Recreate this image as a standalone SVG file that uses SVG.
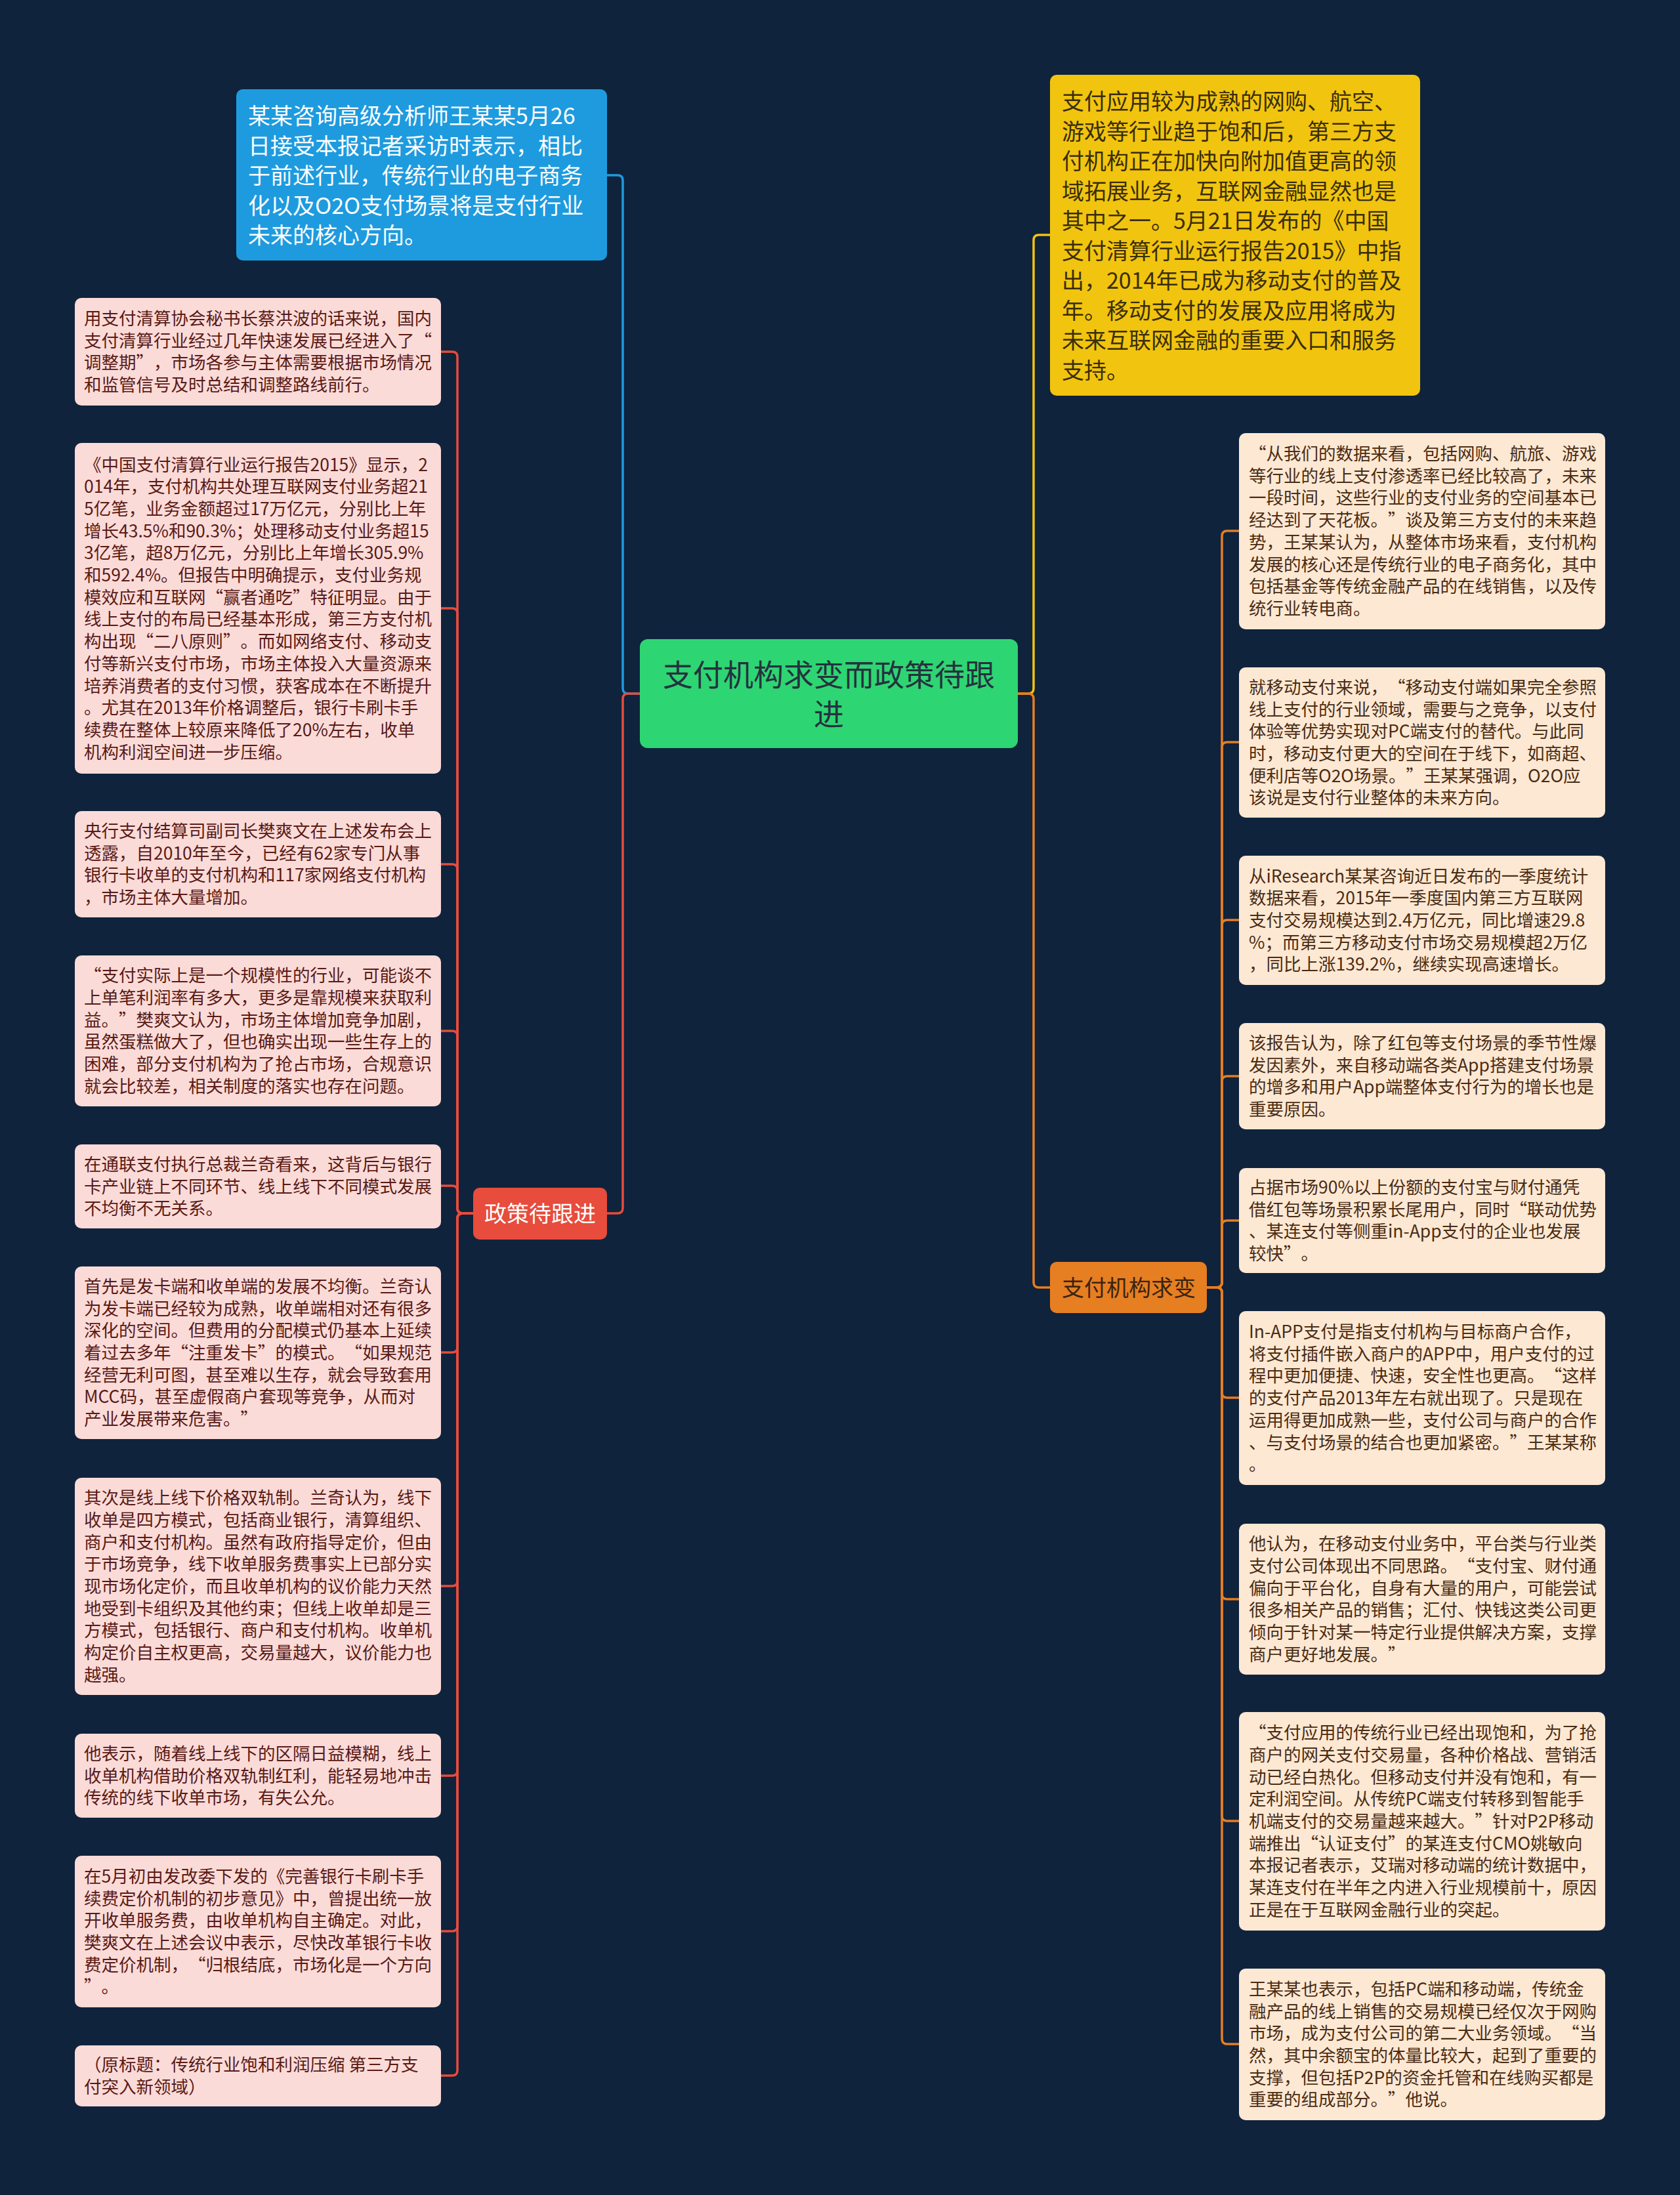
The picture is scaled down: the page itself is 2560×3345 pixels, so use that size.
<svg xmlns="http://www.w3.org/2000/svg" width="2560" height="3345" viewBox="0 0 2560 3345">
<style>
text{font-family:"Noto Sans CJK SC","Noto Sans",sans-serif;text-spacing-trim:space-all;}
.lt{font-size:26.5px;fill:#5a1a16;}
.rt{font-size:26.5px;fill:#4a2c14;}
.lbox{fill:#fadbd8;}
.rbox{fill:#fde8d3;}
.c{fill:none;stroke-width:3.5;stroke-linecap:round;stroke-linejoin:round;}
.cr{stroke:#e74c3c;}
.co{stroke:#e67e22;}
.cb{stroke:#1e9bde;}
.cy{stroke:#f1c40f;}
</style>
<rect x="0" y="0" width="2560" height="3345" fill="#0f233c"/>

<g id="connectors">
<path class="c cb" d="M975,1057 H957 Q949,1057 949,1049 V275 Q949,267 941,267 H925"/>
<path class="c cr" d="M975,1057 H957 Q949,1057 949,1065 V1841 Q949,1849 941,1849 H925"/>
<path class="c cy" d="M1551,1057 H1567 Q1575,1057 1575,1049 V366 Q1575,358 1583,358 H1600"/>
<path class="c co" d="M1551,1057 H1567 Q1575,1057 1575,1065 V1954 Q1575,1962 1583,1962 H1600"/>
<path class="c cr" d="M721,1849 H705 Q697,1849 697,1841 V544 Q697,536 689,536 H672"/>
<path class="c cr" d="M721,1849 H705 Q697,1849 697,1841 V935 Q697,927 689,927 H672"/>
<path class="c cr" d="M721,1849 H705 Q697,1849 697,1841 V1325 Q697,1317 689,1317 H672"/>
<path class="c cr" d="M721,1849 H705 Q697,1849 697,1841 V1579 Q697,1571 689,1571 H672"/>
<path class="c cr" d="M721,1849 H705 Q697,1849 697,1841 V1815 Q697,1807 689,1807 H672"/>
<path class="c cr" d="M721,1849 H705 Q697,1849 697,1857 V2053 Q697,2061 689,2061 H672"/>
<path class="c cr" d="M721,1849 H705 Q697,1849 697,1857 V2409 Q697,2417 689,2417 H672"/>
<path class="c cr" d="M721,1849 H705 Q697,1849 697,1857 V2698 Q697,2706 689,2706 H672"/>
<path class="c cr" d="M721,1849 H705 Q697,1849 697,1857 V2935 Q697,2943 689,2943 H672"/>
<path class="c cr" d="M721,1849 H705 Q697,1849 697,1857 V3155 Q697,3163 689,3163 H672"/>
<path class="c co" d="M1839,1962 H1854 Q1862,1962 1862,1954 V817 Q1862,809 1870,809 H1888"/>
<path class="c co" d="M1839,1962 H1854 Q1862,1962 1862,1954 V1139 Q1862,1131 1870,1131 H1888"/>
<path class="c co" d="M1839,1962 H1854 Q1862,1962 1862,1954 V1410 Q1862,1402 1870,1402 H1888"/>
<path class="c co" d="M1839,1962 H1854 Q1862,1962 1862,1954 V1648 Q1862,1640 1870,1640 H1888"/>
<path class="c co" d="M1839,1962 H1854 Q1862,1962 1862,1954 V1868 Q1862,1860 1870,1860 H1888"/>
<path class="c co" d="M1839,1962 H1854 Q1862,1962 1862,1970 V2122 Q1862,2130 1870,2130 H1888"/>
<path class="c co" d="M1839,1962 H1854 Q1862,1962 1862,1970 V2429 Q1862,2437 1870,2437 H1888"/>
<path class="c co" d="M1839,1962 H1854 Q1862,1962 1862,1970 V2767 Q1862,2775 1870,2775 H1888"/>
<path class="c co" d="M1839,1962 H1854 Q1862,1962 1862,1970 V3107 Q1862,3115 1870,3115 H1888"/>
</g>

<g id="root">
<rect x="975" y="974" width="576" height="166" rx="12" fill="#2ed573"/>
<text x="1263" y="1045" font-size="46" fill="#25323d" text-anchor="middle">支付机构求变而政策待跟</text>
<text x="1263" y="1105" font-size="46" fill="#25323d" text-anchor="middle">进</text>
</g>

<g id="n-blue">
<rect x="360" y="136" width="565" height="261" rx="10" fill="#1e9bde"/>
<text x="378" y="189" font-size="34" fill="#ffffff"><tspan x="378">某某咨询高级分析师王某某5月26</tspan><tspan x="378" dy="45.5">日接受本报记者采访时表示，相比</tspan><tspan x="378" dy="45.5">于前述行业，传统行业的电子商务</tspan><tspan x="378" dy="45.5">化以及O2O支付场景将是支付行业</tspan><tspan x="378" dy="45.5">未来的核心方向。</tspan></text>
</g>

<g id="n-yellow">
<rect x="1600" y="114" width="564" height="489" rx="10" fill="#f1c40f"/>
<text x="1618" y="167" font-size="34" fill="#3a2e08"><tspan x="1618">支付应用较为成熟的网购、航空、</tspan><tspan x="1618" dy="45.5">游戏等行业趋于饱和后，第三方支</tspan><tspan x="1618" dy="45.5">付机构正在加快向附加值更高的领</tspan><tspan x="1618" dy="45.5">域拓展业务，互联网金融显然也是</tspan><tspan x="1618" dy="45.5">其中之一。5月21日发布的《中国</tspan><tspan x="1618" dy="45.5">支付清算行业运行报告2015》中指</tspan><tspan x="1618" dy="45.5">出，2014年已成为移动支付的普及</tspan><tspan x="1618" dy="45.5">年。移动支付的发展及应用将成为</tspan><tspan x="1618" dy="45.5">未来互联网金融的重要入口和服务</tspan><tspan x="1618" dy="45.5">支持。</tspan></text>
</g>

<g id="n-policy">
<rect x="721" y="1810" width="204" height="79" rx="10" fill="#e74c3c"/>
<text x="823" y="1862" font-size="34" fill="#ffffff" text-anchor="middle">政策待跟进</text>
</g>

<g id="n-change">
<rect x="1600" y="1923" width="239" height="78" rx="10" fill="#e67e22"/>
<text x="1720" y="1975" font-size="34" fill="#3a2410" text-anchor="middle">支付机构求变</text>
</g>

<g id="l1">
<rect class="lbox" x="114" y="454" width="558" height="164" rx="10"/>
<text class="lt" x="128" y="495"><tspan x="128">用支付清算协会秘书长蔡洪波的话来说，国内</tspan><tspan x="128" dy="33.7">支付清算行业经过几年快速发展已经进入了“</tspan><tspan x="128" dy="33.7">调整期”，市场各参与主体需要根据市场情况</tspan><tspan x="128" dy="33.7">和监管信号及时总结和调整路线前行。</tspan></text>
</g>

<g id="l2">
<rect class="lbox" x="114" y="675" width="558" height="504" rx="10"/>
<text class="lt" x="128" y="717.5"><tspan x="128">《中国支付清算行业运行报告2015》显示，2</tspan><tspan x="128" dy="33.7">014年，支付机构共处理互联网支付业务超21</tspan><tspan x="128" dy="33.7">5亿笔，业务金额超过17万亿元，分别比上年</tspan><tspan x="128" dy="33.7">增长43.5%和90.3%；处理移动支付业务超15</tspan><tspan x="128" dy="33.7">3亿笔，超8万亿元，分别比上年增长305.9%</tspan><tspan x="128" dy="33.7">和592.4%。但报告中明确提示，支付业务规</tspan><tspan x="128" dy="33.7">模效应和互联网“赢者通吃”特征明显。由于</tspan><tspan x="128" dy="33.7">线上支付的布局已经基本形成，第三方支付机</tspan><tspan x="128" dy="33.7">构出现“二八原则”。而如网络支付、移动支</tspan><tspan x="128" dy="33.7">付等新兴支付市场，市场主体投入大量资源来</tspan><tspan x="128" dy="33.7">培养消费者的支付习惯，获客成本在不断提升</tspan><tspan x="128" dy="33.7">。尤其在2013年价格调整后，银行卡刷卡手</tspan><tspan x="128" dy="33.7">续费在整体上较原来降低了20%左右，收单</tspan><tspan x="128" dy="33.7">机构利润空间进一步压缩。</tspan></text>
</g>

<g id="l3">
<rect class="lbox" x="114" y="1236" width="558" height="162" rx="10"/>
<text class="lt" x="128" y="1276"><tspan x="128">央行支付结算司副司长樊爽文在上述发布会上</tspan><tspan x="128" dy="33.7">透露，自2010年至今，已经有62家专门从事</tspan><tspan x="128" dy="33.7">银行卡收单的支付机构和117家网络支付机构</tspan><tspan x="128" dy="33.7">，市场主体大量增加。</tspan></text>
</g>

<g id="l4">
<rect class="lbox" x="114" y="1456" width="558" height="230" rx="10"/>
<text class="lt" x="128" y="1496.3"><tspan x="128">“支付实际上是一个规模性的行业，可能谈不</tspan><tspan x="128" dy="33.7">上单笔利润率有多大，更多是靠规模来获取利</tspan><tspan x="128" dy="33.7">益。”樊爽文认为，市场主体增加竞争加剧，</tspan><tspan x="128" dy="33.7">虽然蛋糕做大了，但也确实出现一些生存上的</tspan><tspan x="128" dy="33.7">困难，部分支付机构为了抢占市场，合规意识</tspan><tspan x="128" dy="33.7">就会比较差，相关制度的落实也存在问题。</tspan></text>
</g>

<g id="l5">
<rect class="lbox" x="114" y="1744" width="558" height="128" rx="10"/>
<text class="lt" x="128" y="1783.8"><tspan x="128">在通联支付执行总裁兰奇看来，这背后与银行</tspan><tspan x="128" dy="33.7">卡产业链上不同环节、线上线下不同模式发展</tspan><tspan x="128" dy="33.7">不均衡不无关系。</tspan></text>
</g>

<g id="l6">
<rect class="lbox" x="114" y="1930" width="558" height="263" rx="10"/>
<text class="lt" x="128" y="1969.9"><tspan x="128">首先是发卡端和收单端的发展不均衡。兰奇认</tspan><tspan x="128" dy="33.7">为发卡端已经较为成熟，收单端相对还有很多</tspan><tspan x="128" dy="33.7">深化的空间。但费用的分配模式仍基本上延续</tspan><tspan x="128" dy="33.7">着过去多年“注重发卡”的模式。“如果规范</tspan><tspan x="128" dy="33.7">经营无利可图，甚至难以生存，就会导致套用</tspan><tspan x="128" dy="33.7">MCC码，甚至虚假商户套现等竞争，从而对</tspan><tspan x="128" dy="33.7">产业发展带来危害。”</tspan></text>
</g>

<g id="l7">
<rect class="lbox" x="114" y="2252" width="558" height="331" rx="10"/>
<text class="lt" x="128" y="2292.2"><tspan x="128">其次是线上线下价格双轨制。兰奇认为，线下</tspan><tspan x="128" dy="33.7">收单是四方模式，包括商业银行，清算组织、</tspan><tspan x="128" dy="33.7">商户和支付机构。虽然有政府指导定价，但由</tspan><tspan x="128" dy="33.7">于市场竞争，线下收单服务费事实上已部分实</tspan><tspan x="128" dy="33.7">现市场化定价，而且收单机构的议价能力天然</tspan><tspan x="128" dy="33.7">地受到卡组织及其他约束；但线上收单却是三</tspan><tspan x="128" dy="33.7">方模式，包括银行、商户和支付机构。收单机</tspan><tspan x="128" dy="33.7">构定价自主权更高，交易量越大，议价能力也</tspan><tspan x="128" dy="33.7">越强。</tspan></text>
</g>

<g id="l8">
<rect class="lbox" x="114" y="2642" width="558" height="128" rx="10"/>
<text class="lt" x="128" y="2681.8"><tspan x="128">他表示，随着线上线下的区隔日益模糊，线上</tspan><tspan x="128" dy="33.7">收单机构借助价格双轨制红利，能轻易地冲击</tspan><tspan x="128" dy="33.7">传统的线下收单市场，有失公允。</tspan></text>
</g>

<g id="l9">
<rect class="lbox" x="114" y="2828" width="558" height="231" rx="10"/>
<text class="lt" x="128" y="2868.8"><tspan x="128">在5月初由发改委下发的《完善银行卡刷卡手</tspan><tspan x="128" dy="33.7">续费定价机制的初步意见》中，曾提出统一放</tspan><tspan x="128" dy="33.7">开收单服务费，由收单机构自主确定。对此，</tspan><tspan x="128" dy="33.7">樊爽文在上述会议中表示，尽快改革银行卡收</tspan><tspan x="128" dy="33.7">费定价机制，“归根结底，市场化是一个方向</tspan><tspan x="128" dy="33.7">”。</tspan></text>
</g>

<g id="l10">
<rect class="lbox" x="114" y="3117" width="558" height="93" rx="10"/>
<text class="lt" x="128" y="3156.2"><tspan x="128">（原标题：传统行业饱和利润压缩 第三方支</tspan><tspan x="128" dy="33.7">付突入新领域）</tspan></text>
</g>

<g id="r1">
<rect class="rbox" x="1888" y="660" width="558" height="299" rx="10"/>
<text class="rt" x="1903" y="701"><tspan x="1903">“从我们的数据来看，包括网购、航旅、游戏</tspan><tspan x="1903" dy="33.7">等行业的线上支付渗透率已经比较高了，未来</tspan><tspan x="1903" dy="33.7">一段时间，这些行业的支付业务的空间基本已</tspan><tspan x="1903" dy="33.7">经达到了天花板。”谈及第三方支付的未来趋</tspan><tspan x="1903" dy="33.7">势，王某某认为，从整体市场来看，支付机构</tspan><tspan x="1903" dy="33.7">发展的核心还是传统行业的电子商务化，其中</tspan><tspan x="1903" dy="33.7">包括基金等传统金融产品的在线销售，以及传</tspan><tspan x="1903" dy="33.7">统行业转电商。</tspan></text>
</g>

<g id="r2">
<rect class="rbox" x="1888" y="1017" width="558" height="229" rx="10"/>
<text class="rt" x="1903" y="1056.8"><tspan x="1903">就移动支付来说，“移动支付端如果完全参照</tspan><tspan x="1903" dy="33.7">线上支付的行业领域，需要与之竞争，以支付</tspan><tspan x="1903" dy="33.7">体验等优势实现对PC端支付的替代。与此同</tspan><tspan x="1903" dy="33.7">时，移动支付更大的空间在于线下，如商超、</tspan><tspan x="1903" dy="33.7">便利店等O2O场景。”王某某强调，O2O应</tspan><tspan x="1903" dy="33.7">该说是支付行业整体的未来方向。</tspan></text>
</g>

<g id="r3">
<rect class="rbox" x="1888" y="1304" width="558" height="197" rx="10"/>
<text class="rt" x="1903" y="1344.6"><tspan x="1903">从iResearch某某咨询近日发布的一季度统计</tspan><tspan x="1903" dy="33.7">数据来看，2015年一季度国内第三方互联网</tspan><tspan x="1903" dy="33.7">支付交易规模达到2.4万亿元，同比增速29.8</tspan><tspan x="1903" dy="33.7">%；而第三方移动支付市场交易规模超2万亿</tspan><tspan x="1903" dy="33.7">，同比上涨139.2%，继续实现高速增长。</tspan></text>
</g>

<g id="r4">
<rect class="rbox" x="1888" y="1559" width="558" height="162" rx="10"/>
<text class="rt" x="1903" y="1599"><tspan x="1903">该报告认为，除了红包等支付场景的季节性爆</tspan><tspan x="1903" dy="33.7">发因素外，来自移动端各类App搭建支付场景</tspan><tspan x="1903" dy="33.7">的增多和用户App端整体支付行为的增长也是</tspan><tspan x="1903" dy="33.7">重要原因。</tspan></text>
</g>

<g id="r5">
<rect class="rbox" x="1888" y="1780" width="558" height="160" rx="10"/>
<text class="rt" x="1903" y="1819"><tspan x="1903">占据市场90%以上份额的支付宝与财付通凭</tspan><tspan x="1903" dy="33.7">借红包等场景积累长尾用户，同时“联动优势</tspan><tspan x="1903" dy="33.7">、某连支付等侧重in-App支付的企业也发展</tspan><tspan x="1903" dy="33.7">较快”。</tspan></text>
</g>

<g id="r6">
<rect class="rbox" x="1888" y="1998" width="558" height="265" rx="10"/>
<text class="rt" x="1903" y="2039"><tspan x="1903">In-APP支付是指支付机构与目标商户合作，</tspan><tspan x="1903" dy="33.7">将支付插件嵌入商户的APP中，用户支付的过</tspan><tspan x="1903" dy="33.7">程中更加便捷、快速，安全性也更高。“这样</tspan><tspan x="1903" dy="33.7">的支付产品2013年左右就出现了。只是现在</tspan><tspan x="1903" dy="33.7">运用得更加成熟一些，支付公司与商户的合作</tspan><tspan x="1903" dy="33.7">、与支付场景的结合也更加紧密。”王某某称</tspan><tspan x="1903" dy="33.7">。</tspan></text>
</g>

<g id="r7">
<rect class="rbox" x="1888" y="2322" width="558" height="230" rx="10"/>
<text class="rt" x="1903" y="2362.3"><tspan x="1903">他认为，在移动支付业务中，平台类与行业类</tspan><tspan x="1903" dy="33.7">支付公司体现出不同思路。“支付宝、财付通</tspan><tspan x="1903" dy="33.7">偏向于平台化，自身有大量的用户，可能尝试</tspan><tspan x="1903" dy="33.7">很多相关产品的销售；汇付、快钱这类公司更</tspan><tspan x="1903" dy="33.7">倾向于针对某一特定行业提供解决方案，支撑</tspan><tspan x="1903" dy="33.7">商户更好地发展。”</tspan></text>
</g>

<g id="r8">
<rect class="rbox" x="1888" y="2609" width="558" height="333" rx="10"/>
<text class="rt" x="1903" y="2650.2"><tspan x="1903">“支付应用的传统行业已经出现饱和，为了抢</tspan><tspan x="1903" dy="33.7">商户的网关支付交易量，各种价格战、营销活</tspan><tspan x="1903" dy="33.7">动已经白热化。但移动支付并没有饱和，有一</tspan><tspan x="1903" dy="33.7">定利润空间。从传统PC端支付转移到智能手</tspan><tspan x="1903" dy="33.7">机端支付的交易量越来越大。”针对P2P移动</tspan><tspan x="1903" dy="33.7">端推出“认证支付”的某连支付CMO姚敏向</tspan><tspan x="1903" dy="33.7">本报记者表示，艾瑞对移动端的统计数据中，</tspan><tspan x="1903" dy="33.7">某连支付在半年之内进入行业规模前十，原因</tspan><tspan x="1903" dy="33.7">正是在于互联网金融行业的突起。</tspan></text>
</g>

<g id="r9">
<rect class="rbox" x="1888" y="3000" width="558" height="231" rx="10"/>
<text class="rt" x="1903" y="3040.8"><tspan x="1903">王某某也表示，包括PC端和移动端，传统金</tspan><tspan x="1903" dy="33.7">融产品的线上销售的交易规模已经仅次于网购</tspan><tspan x="1903" dy="33.7">市场，成为支付公司的第二大业务领域。“当</tspan><tspan x="1903" dy="33.7">然，其中余额宝的体量比较大，起到了重要的</tspan><tspan x="1903" dy="33.7">支撑，但包括P2P的资金托管和在线购买都是</tspan><tspan x="1903" dy="33.7">重要的组成部分。”他说。</tspan></text>
</g>
</svg>
